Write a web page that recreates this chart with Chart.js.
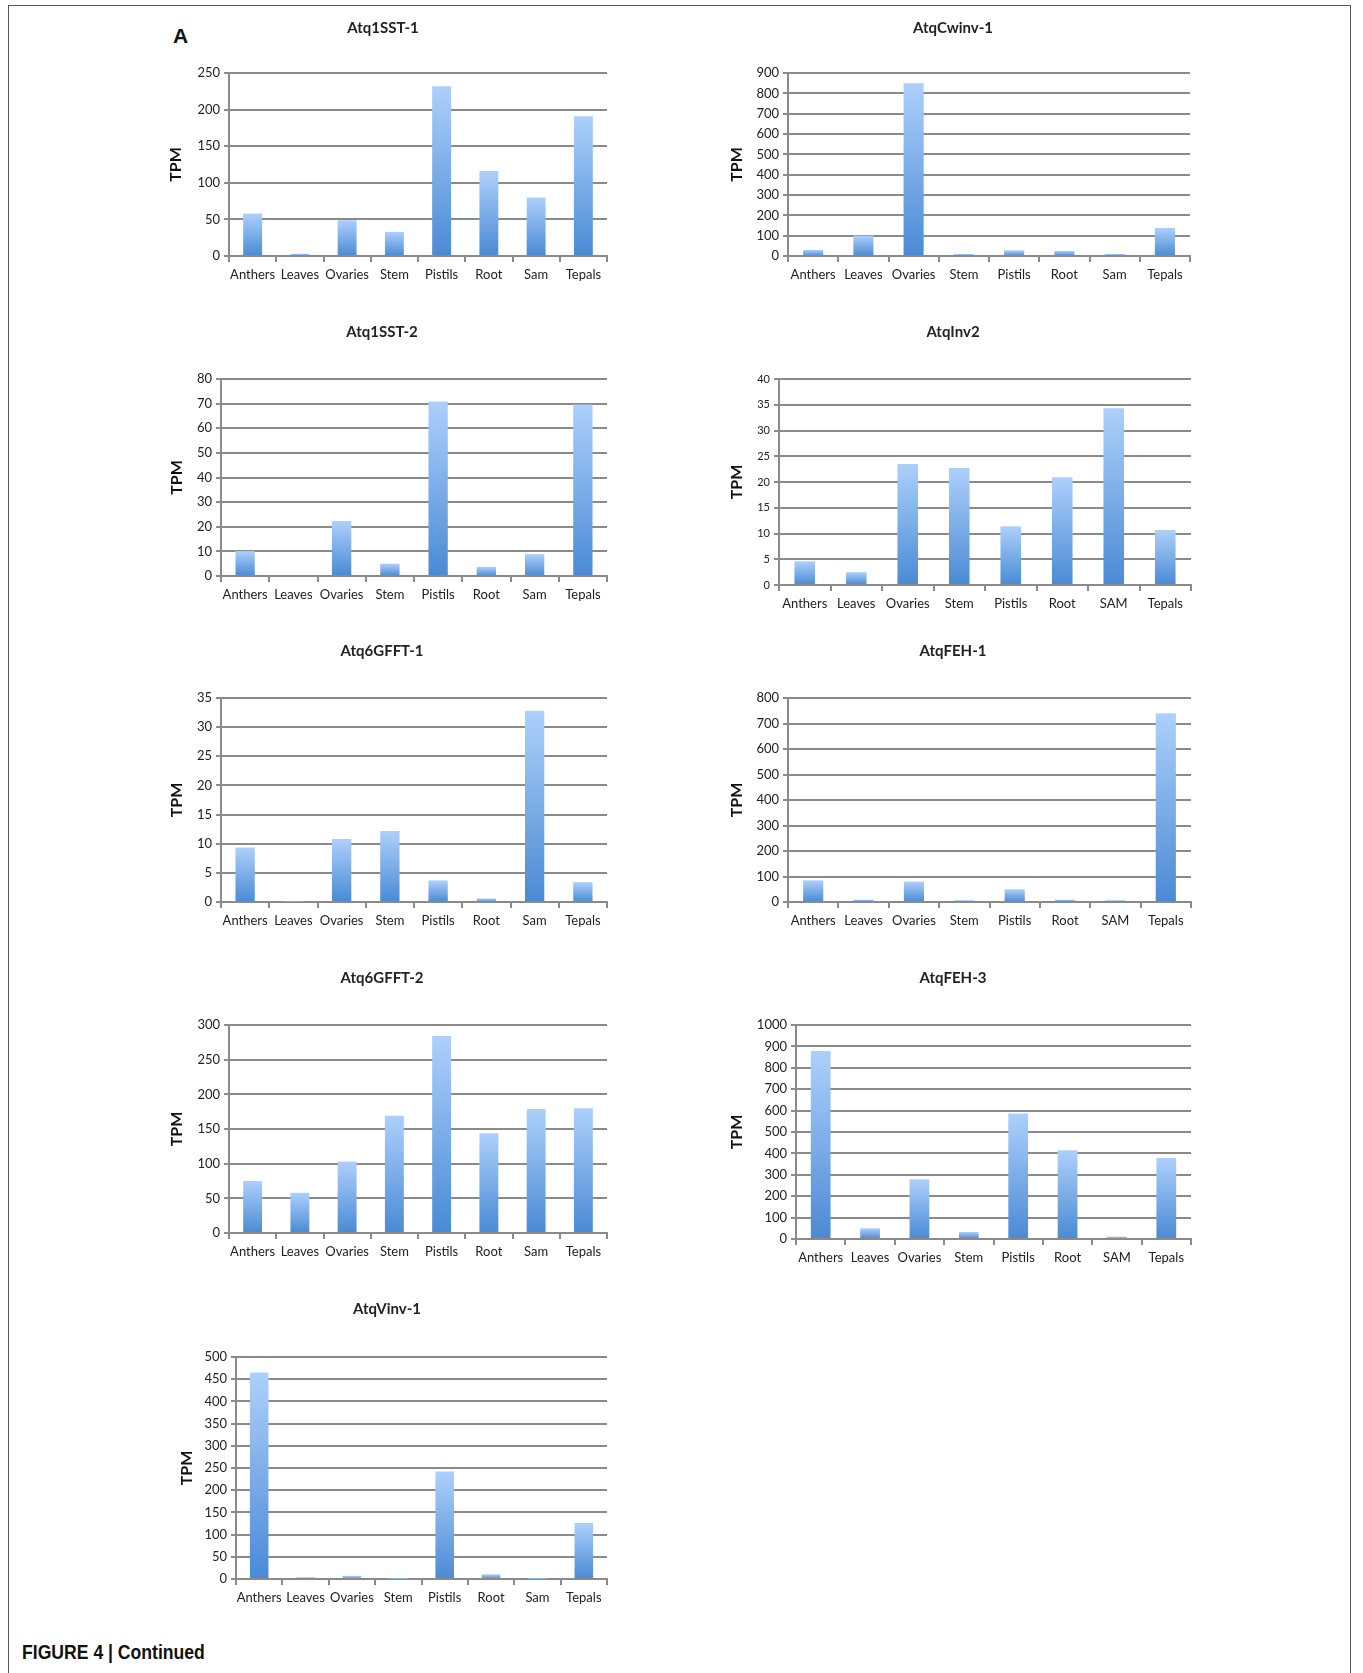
<!DOCTYPE html>
<html>
<head>
<meta charset="utf-8">
<script src="https://cdn.jsdelivr.net/npm/chart.js@4.4.1/dist/chart.umd.min.js"></script>
<style>
  html, body { margin: 0; padding: 0; background: #fff; }
  body { width: 1363px; height: 1673px; position: relative; overflow: hidden; }
  #frame { position: absolute; left: 8px; top: 5px; width: 1343px; height: 1700px;
           border: 1.5px solid #555; box-sizing: border-box; }
  canvas { position: absolute; }
  #panel { position: absolute; left: 173px; top: 24px; font: bold 21px 'Liberation Sans', Arial, sans-serif; color: #111; }
  #caption { position: absolute; left: 22px; top: 1641px; font: bold 20px 'Liberation Sans', Arial, sans-serif;
             color: #111; transform: scaleX(0.88); transform-origin: left top; white-space: nowrap; }
</style>
</head>
<body>
<div id="frame"></div>
<div id="panel">A</div>
<div id="caption">FIGURE 4 | Continued</div>

<script>
// ---- datos (TPM por tejido) ----
const tissuesSam = ['Anthers', 'Leaves', 'Ovaries', 'Stem', 'Pistils', 'Root', 'Sam', 'Tepals'];
const tissuesSAM = ['Anthers', 'Leaves', 'Ovaries', 'Stem', 'Pistils', 'Root', 'SAM', 'Tepals'];

const atq1SST1  = [58, 3, 49, 33, 232, 116, 80, 191];
const atqCwinv1 = [30, 100, 850, 10, 28, 25, 10, 138];
const atq1SST2  = [10.1, 0, 22.3, 5, 70.9, 3.7, 8.9, 69.6];
const atqInv2   = [4.6, 2.5, 23.5, 22.7, 11.4, 20.9, 34.3, 10.7];
const atq6GFFT1 = [9.35, 0.1, 10.8, 12.2, 3.7, 0.6, 32.8, 3.4];
const atqFEH1   = [85, 9, 80, 7, 50, 9, 7, 740];
const atq6GFFT2 = [75, 58, 103, 169, 284, 144, 179, 180];
const atqFEH3   = [878, 50, 279, 33, 587, 415, 11, 378];
const atqVinv1  = [465, 4, 7, 0.5, 242, 10.5, 0.3, 126];

const geneTitles = ['Atq1SST-1', 'AtqCwinv-1', 'Atq1SST-2', 'AtqInv2', 'Atq6GFFT-1',
                    'AtqFEH-1', 'Atq6GFFT-2', 'AtqFEH-3', 'AtqVinv-1'];
const geneValues = [atq1SST1, atqCwinv1, atq1SST2, atqInv2, atq6GFFT1,
                    atqFEH1, atq6GFFT2, atqFEH3, atqVinv1];
const geneTissues = [tissuesSam, tissuesSam, tissuesSam, tissuesSAM, tissuesSam,
                     tissuesSAM, tissuesSam, tissuesSAM, tissuesSam];
const yMax  = [250, 900, 80, 40, 35, 800, 300, 1000, 500];
const yStep = [50, 100, 10, 5, 5, 100, 50, 100, 50];

// ---- posición de cada panel en la página ----
// axisX/right/top/bottom = área del gráfico; tpmX = centro del título del eje; titleX/titleY = centro del título
const panels = [
  { axisX: 229, right: 607,  top: 73,   bottom: 256,  tpmX: 176, titleX: 383, titleY: 28,   tickSize: 13 },
  { axisX: 788, right: 1190, top: 73,   bottom: 256,  tpmX: 737, titleX: 953, titleY: 28,   tickSize: 13 },
  { axisX: 221, right: 607,  top: 379,  bottom: 576,  tpmX: 177, titleX: 382, titleY: 332,  tickSize: 13 },
  { axisX: 779, right: 1191, top: 379,  bottom: 585,  tpmX: 737, titleX: 953, titleY: 332,  tickSize: 11 },
  { axisX: 221, right: 607,  top: 698,  bottom: 902,  tpmX: 177, titleX: 382, titleY: 651,  tickSize: 13 },
  { axisX: 788, right: 1191, top: 698,  bottom: 902,  tpmX: 737, titleX: 953, titleY: 651,  tickSize: 13 },
  { axisX: 229, right: 607,  top: 1025, bottom: 1233, tpmX: 177, titleX: 382, titleY: 978,  tickSize: 13 },
  { axisX: 796, right: 1191, top: 1025, bottom: 1239, tpmX: 737, titleX: 953, titleY: 978,  tickSize: 13 },
  { axisX: 236, right: 607,  top: 1357, bottom: 1579, tpmX: 187, titleX: 387, titleY: 1309, tickSize: 13 }
];

const GRID = '#8a8a8a';
const TEXT = '#222';
const FONT = "Lato, 'Open Sans', sans-serif";
const X_AXIS_H = 38;
const PAD_R = 10;

// degradado por barra: claro arriba, más oscuro en la base (estilo Excel)
function barFill(ctx) {
  const chart = ctx.chart;
  if (!chart.chartArea || ctx.type !== 'data') return '#6fa8ec';
  const y = chart.scales.y;
  const top = y.getPixelForValue(ctx.raw);
  const base = y.getPixelForValue(0);
  if (!(base - top > 0.5)) return '#8dbdf4';
  const g = chart.ctx.createLinearGradient(0, top, 0, base);
  g.addColorStop(0, '#add0fb');
  g.addColorStop(1, '#4a8ad5');
  return g;
}

panels.forEach(function (p, i) {
  const R = p.right + PAD_R;
  const L = 2 * p.titleX - R + PAD_R;
  const T = p.titleY - 9;
  const W = R - L;
  const H = p.bottom - T + X_AXIS_H;
  const yWidth = p.axisX - L;

  const canvas = document.createElement('canvas');
  canvas.width = W;
  canvas.height = H;
  canvas.style.left = L + 'px';
  canvas.style.top = T + 'px';
  canvas.style.width = W + 'px';
  canvas.style.height = H + 'px';
  document.body.appendChild(canvas);

  new Chart(canvas, {
    type: 'bar',
    data: {
      labels: geneTissues[i],
      datasets: [{
        data: geneValues[i],
        backgroundColor: barFill,
        borderWidth: 0,
        barPercentage: 0.4,
        categoryPercentage: 1.0
      }]
    },
    options: {
      responsive: false,
      animation: false,
      layout: { padding: { left: 0, right: PAD_R, top: 0, bottom: 0 } },
      plugins: {
        legend: { display: false },
        tooltip: { enabled: false },
        title: {
          display: true,
          text: geneTitles[i],
          color: TEXT,
          font: { family: FONT, size: 15, weight: 'bold', lineHeight: 1.2 },
          padding: { top: 0, bottom: p.top - T - 18 }
        }
      },
      scales: {
        x: {
          offset: true,
          grid: { drawOnChartArea: false, drawTicks: true, tickLength: 6, color: GRID, lineWidth: 2 },
          border: { color: GRID, width: 2 },
          ticks: { color: TEXT, font: { family: FONT, size: 13 }, padding: 5, autoSkip: false, maxRotation: 0 },
          afterFit: function (s) { s.height = X_AXIS_H; }
        },
        y: {
          min: 0,
          max: yMax[i],
          ticks: {
            stepSize: yStep[i], color: TEXT, font: { family: FONT, size: p.tickSize }, padding: 4,
            callback: function (v) { return String(v); }
          },
          grid: { color: GRID, lineWidth: 2, tickLength: 5 },
          border: { color: GRID, width: 2 },
          title: {
            display: true,
            text: 'TPM',
            color: '#111',
            font: { family: FONT, size: 16, weight: 'bold', lineHeight: 1.2 },
            padding: { top: p.tpmX - L - 9.6, bottom: 0 }
          },
          afterFit: function (s) { s.width = yWidth; }
        }
      }
    }
  });
});
</script>
</body>
</html>
